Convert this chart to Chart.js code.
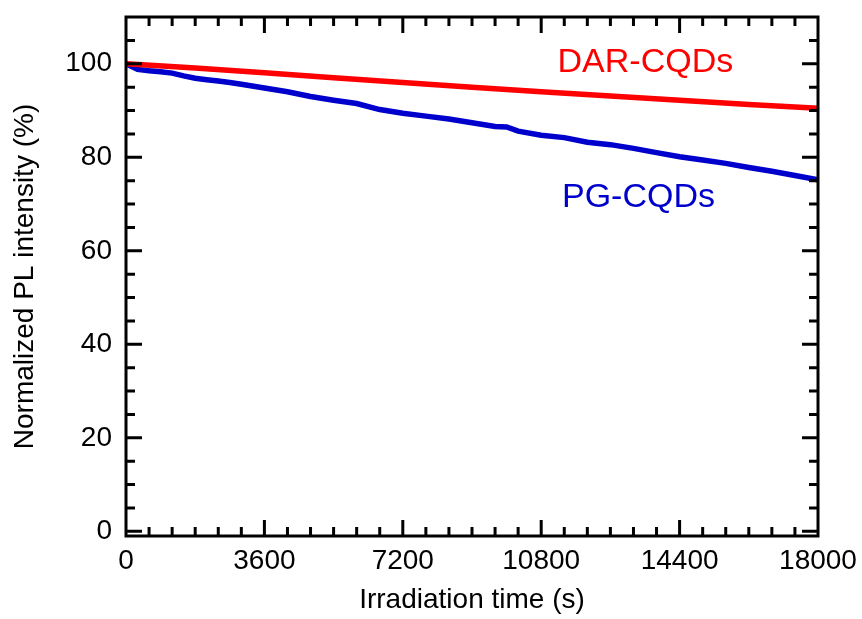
<!DOCTYPE html>
<html>
<head>
<meta charset="utf-8">
<script src="https://cdn.jsdelivr.net/npm/chart.js@4.4.1/dist/chart.umd.min.js"></script>
<style>
  html, body { margin: 0; padding: 0; background: #fff; }
  canvas { display: block; }
</style>
</head>
<body>
<canvas id="photoChart" width="862" height="619"></canvas>
<script>
// irradiation time (s) and normalized PL (%)
const darTimes = [0, 1800, 3600, 5400, 7200, 9000, 10800, 12600, 14400, 16200, 18000];
const darValues = [100, 99.1, 98.1, 97.0, 96.0, 95.0, 94.0, 93.1, 92.2, 91.3, 90.5];

const pgTimes = [0, 300, 600, 900, 1200, 1500, 1800, 2100, 2400, 2700, 3000, 3600, 4200, 4800, 5400, 6000,
  6600, 7200, 7800, 8400, 9000, 9600, 9900, 10200, 10800, 11400, 12000, 12600, 13200, 13800, 14400,
  15000, 15600, 16200, 16800, 17400, 18000];
const pgValues = [100, 98.8, 98.5, 98.3, 98.0, 97.4, 96.9, 96.6, 96.3, 96.0, 95.6, 94.8, 94.0, 93.0, 92.2, 91.5,
  90.2, 89.4, 88.8, 88.2, 87.4, 86.6, 86.5, 85.6, 84.7, 84.2, 83.2, 82.7, 81.9, 81.0, 80.1,
  79.4, 78.7, 77.8, 77.0, 76.1, 75.2];

const xTickValues = [0, 3600, 7200, 10800, 14400, 18000];
const yTickValues = [0, 20, 40, 60, 80, 100];

const seriesNames = ['DAR-CQDs', 'PG-CQDs'];
const seriesColors = ['#ff0000', '#0000cc'];
// where the series names sit, in data units
const nameTimes = [13510, 13330];
const nameValues = [100.2, 71.3];

const FONT = '"Liberation Sans", Arial, sans-serif';

function toPoints(xs, ys) {
  return xs.map((x, i) => ({ x: x, y: ys[i] }));
}

// frame, inward ticks on all four sides, and the series names
const frameTicks = {
  id: 'frameTicks',
  afterDraw(chart) {
    const { ctx, chartArea: a } = chart;
    const xs = chart.scales.x;
    const ys = chart.scales.y;
    ctx.save();
    ctx.strokeStyle = '#000';
    ctx.lineWidth = 3;
    ctx.strokeRect(a.left, a.top, a.right - a.left, a.bottom - a.top);

    ctx.beginPath();
    for (let t = 600; t < 18000; t += 600) {
      const px = xs.getPixelForValue(t);
      const len = t % 3600 === 0 ? 16 : 9;
      ctx.moveTo(px, a.bottom); ctx.lineTo(px, a.bottom - len);
      ctx.moveTo(px, a.top); ctx.lineTo(px, a.top + len);
    }
    for (let v = 0; v <= 105; v += 5) {
      const py = ys.getPixelForValue(v);
      const len = v % 20 === 0 ? 16 : 9;
      ctx.moveTo(a.left, py); ctx.lineTo(a.left + len, py);
      ctx.moveTo(a.right, py); ctx.lineTo(a.right - len, py);
    }
    ctx.stroke();

    ctx.font = '34px ' + FONT;
    ctx.textAlign = 'center';
    ctx.textBaseline = 'middle';
    seriesNames.forEach((name, i) => {
      ctx.fillStyle = seriesColors[i];
      ctx.fillText(name, xs.getPixelForValue(nameTimes[i]), ys.getPixelForValue(nameValues[i]));
    });
    ctx.restore();
  }
};

const ctx = document.getElementById('photoChart').getContext('2d');
new Chart(ctx, {
  type: 'line',
  data: {
    datasets: [
      { label: seriesNames[0], data: toPoints(darTimes, darValues), borderColor: seriesColors[0], borderWidth: 5.5, pointRadius: 0, tension: 0 },
      { label: seriesNames[1], data: toPoints(pgTimes, pgValues), borderColor: seriesColors[1], borderWidth: 5.5, pointRadius: 0, tension: 0 }
    ]
  },
  options: {
    responsive: false,
    animation: false,
    devicePixelRatio: 1,
    layout: { padding: { top: 17, right: 44, left: 0, bottom: 0 } },
    plugins: { legend: { display: false }, tooltip: { enabled: false } },
    scales: {
      x: {
        type: 'linear',
        min: 0,
        max: 18000,
        grid: { display: false, drawTicks: false },
        border: { display: false },
        afterBuildTicks: s => { s.ticks = xTickValues.map(v => ({ value: v })); },
        afterFit: s => { s.height = 83; s.paddingLeft = 0; s.paddingRight = 0; },
        ticks: { color: '#000', font: { family: FONT, size: 28 }, padding: 8, maxRotation: 0, callback: v => String(v) },
        title: { display: true, text: 'Irradiation time (s)', color: '#000', font: { family: FONT, size: 28 }, padding: { top: 0, bottom: 2 } }
      },
      y: {
        min: -1,
        max: 110,
        grid: { display: false, drawTicks: false },
        border: { display: false },
        afterBuildTicks: s => { s.ticks = yTickValues.map(v => ({ value: v })); },
        afterFit: s => { s.width = 126; s.paddingTop = 0; s.paddingBottom = 0; },
        ticks: { color: '#000', font: { family: FONT, size: 28 }, padding: 14, callback: v => String(v) },
        title: { display: true, text: 'Normalized PL intensity (%)', color: '#000', font: { family: FONT, size: 28 }, padding: { top: 8, bottom: 0 } }
      }
    }
  },
  plugins: [frameTicks]
});
</script>
</body>
</html>
